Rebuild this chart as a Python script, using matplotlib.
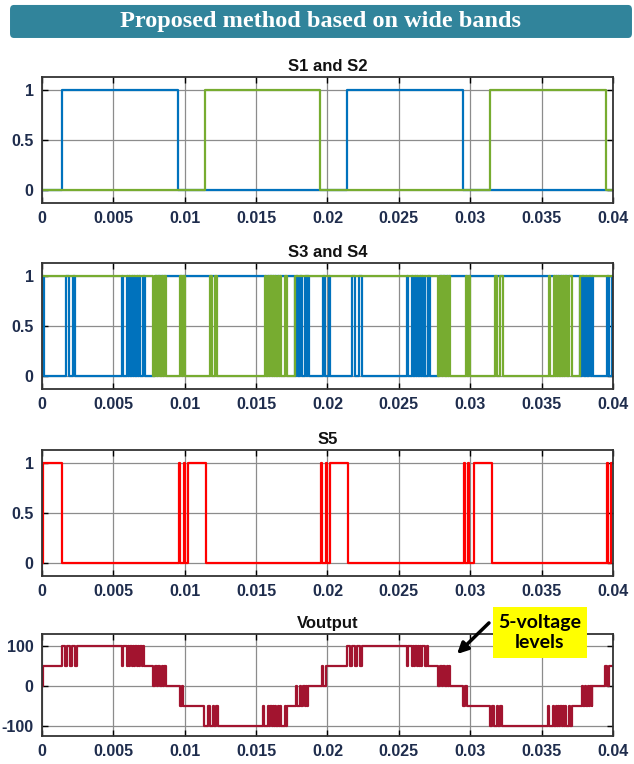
import numpy as np
import matplotlib
matplotlib.use("Agg")
import matplotlib.pyplot as plt
from matplotlib.patches import FancyBboxPatch, Rectangle

# switching instants (seconds)
t_end = 0.04

s1_init = 0
s1_edges = [0.0014, 0.00955, 0.0214, 0.0295]
s2_init = 0
s2_edges = [0.0114, 0.0195, 0.0314, 0.0395]

s3_init = 1
s3_edges = [
    0.00015,
    0.0017, 0.0019, 0.00215, 0.0023,
    0.0056, 0.00567, 0.00595, 0.00602, 0.00612, 0.0062, 0.0063, 0.00637,
    0.00646, 0.00654, 0.00663, 0.0067, 0.0068, 0.00686,
    0.00705, 0.0072,
    0.0079,
    0.0177, 0.0178, 0.01795, 0.0181, 0.01825, 0.0184, 0.01855, 0.0186, 0.0187,
    0.0197, 0.0198, 0.0201, 0.0202,
    0.0217, 0.0219, 0.0222, 0.0224,
    0.0256, 0.02567, 0.02595, 0.02602, 0.02612, 0.0262, 0.0263, 0.02637,
    0.02646, 0.02654, 0.02663, 0.0267, 0.0268, 0.02686,
    0.02705, 0.0272,
    0.0278,
    0.03772, 0.0378, 0.03795, 0.03808, 0.0382, 0.03833, 0.03845, 0.03852, 0.0386,
    0.0396, 0.03972, 0.03992,
]

s4_init = 1
s4_edges = [
    0.0078, 0.00792, 0.00805, 0.00815, 0.00828, 0.0084, 0.0085, 0.00858, 0.00866,
    0.00968, 0.0098, 0.0099, 0.01,
    0.01177, 0.0119, 0.0121, 0.01228,
    0.0156, 0.01567, 0.01585, 0.01592, 0.016, 0.01608, 0.01617, 0.01625,
    0.01634, 0.01642, 0.0165, 0.01658, 0.01667, 0.01675,
    0.01702, 0.01714,
    0.0177,
    0.02776, 0.02788, 0.028, 0.02812, 0.02825, 0.02835, 0.02845, 0.02852, 0.0286,
    0.02968, 0.0298, 0.0299, 0.03,
    0.03175, 0.0319, 0.0321, 0.03228,
    0.03552, 0.0356, 0.03585, 0.03592, 0.036, 0.03608, 0.03617, 0.03625,
    0.03634, 0.03642, 0.0365, 0.03658, 0.03667, 0.03676,
    0.03695, 0.0371,
    0.0377,
]

s5_init = 0
s5_edges = [
    0.00005, 0.0014,
    0.00958, 0.00966, 0.00992, 0.01, 0.0102, 0.0115,
    0.01957, 0.01965, 0.01988, 0.01996, 0.02016, 0.02144,
    0.02955, 0.02963, 0.02985, 0.02993, 0.03025, 0.0315,
    0.03958, 0.03966, 0.03985,
]

vout_t = [
    0, 0.0001, 0.0014, 0.00162, 0.00174, 0.00196, 0.00208, 0.00232, 0.00245,
    0.0056, 0.00567, 0.00595, 0.00602, 0.00612, 0.0062, 0.0063, 0.00637,
    0.00646, 0.00654, 0.00663, 0.0067, 0.0068, 0.00686, 0.00698, 0.00708, 0.00718,
    0.0078, 0.00792, 0.00805, 0.00815, 0.00828, 0.0084, 0.0085, 0.00858, 0.00866,
    0.00967, 0.00978, 0.0099, 0.01135,
    0.01165, 0.01175, 0.01195, 0.01205, 0.01222, 0.01232,
    0.0155, 0.01557, 0.01585, 0.01592, 0.016, 0.01608, 0.01617, 0.01625,
    0.01634, 0.01642, 0.0165, 0.01658, 0.01667, 0.01675, 0.01702, 0.0171, 0.01718,
    0.0178, 0.0179, 0.01805, 0.01815, 0.01828, 0.0184, 0.0185, 0.01858, 0.01866,
    0.01962, 0.01972, 0.0199,
    0.02134, 0.02158, 0.0217, 0.02192, 0.02204, 0.02228, 0.0224,
    0.02555, 0.02562, 0.0259, 0.02597, 0.02607, 0.02615, 0.02625, 0.02632,
    0.02642, 0.0265, 0.02658, 0.02665, 0.02684, 0.02694, 0.02704,
    0.02776, 0.02788, 0.028, 0.02812, 0.02825, 0.02835, 0.02845, 0.02852, 0.0286,
    0.02952, 0.02965, 0.0298, 0.03138,
    0.03155, 0.03165, 0.03185, 0.03195, 0.03212, 0.03222,
    0.03547, 0.03555, 0.03582, 0.0359, 0.03598, 0.03606, 0.03615, 0.03623,
    0.03632, 0.0364, 0.03648, 0.03656, 0.03664, 0.03672, 0.0369, 0.037, 0.0371,
    0.0378, 0.0379, 0.03802, 0.03812, 0.03824, 0.03834, 0.03842, 0.0385, 0.03856,
    0.03944, 0.03955, 0.0397,
]
vout_v = [
    0, 50, 100, 50, 100, 50, 100, 50, 100,
    50, 100, 50, 100, 50, 100, 50, 100,
    50, 100, 50, 100, 50, 100, 50, 100, 50,
    0, 50, 0, 50, 0, 50, 0, 50, 0,
    -50, 0, -50, -100,
    -50, -100, -50, -100, -50, -100,
    -50, -100, -50, -100, -50, -100, -50, -100,
    -50, -100, -50, -100, -50, -100, -50, -100, -50,
    0, -50, 0, -50, 0, -50, 0, -50, 0,
    50, 0, 50,
    100, 50, 100, 50, 100, 50, 100,
    50, 100, 50, 100, 50, 100, 50, 100,
    50, 100, 50, 100, 50, 100, 50,
    0, 50, 0, 50, 0, 50, 0, 50, 0,
    -50, 0, -50, -100,
    -50, -100, -50, -100, -50, -100,
    -50, -100, -50, -100, -50, -100, -50, -100,
    -50, -100, -50, -100, -50, -100, -50, -100, -50,
    0, -50, 0, -50, 0, -50, 0, -50, 0,
    50, 0, 50,
]

x_ticks = [0, 0.005, 0.01, 0.015, 0.02, 0.025, 0.03, 0.035, 0.04]
x_labels = ["0", "0.005", "0.01", "0.015", "0.02", "0.025", "0.03", "0.035", "0.04"]

blue = "#0072BD"
green = "#77AC30"
red = "#FF0000"
wine = "#A2142F"
tick_color = "#1F2D4D"


def toggles(init, edges):
    t = [0] + list(edges) + [t_end]
    v = [init]
    for _ in edges:
        v.append(1 - v[-1])
    v.append(v[-1])
    return t, v


def style(ax, title, yticks, ylabels, ylim):
    ax.set_xlim(0, t_end)
    ax.set_ylim(*ylim)
    ax.set_xticks(x_ticks)
    ax.set_xticklabels(x_labels)
    ax.set_yticks(yticks)
    ax.set_yticklabels(ylabels)
    ax.grid(True, color="#8c8c8c", lw=0.9)
    ax.set_axisbelow(True)
    ax.tick_params(direction="in", top=True, right=True, length=4, width=1,
                   labelsize=11.5, labelcolor=tick_color, pad=6)
    for lbl in ax.get_xticklabels() + ax.get_yticklabels():
        lbl.set_fontweight("bold")
    for sp in ax.spines.values():
        sp.set_color("#333333")
        sp.set_linewidth(1.3)
    ax.set_title(title, fontsize=12, fontweight="bold", color="#111111", pad=4)


plt.rcParams["font.family"] = ["Liberation Sans", "DejaVu Sans"]

fig = plt.figure(figsize=(6.34, 7.64), dpi=100)
L, W = 0.0662, 0.9006
ax1 = fig.add_axes([L, 0.7343, W, 0.1649])
ax2 = fig.add_axes([L, 0.4908, W, 0.1649])
ax3 = fig.add_axes([L, 0.2461, W, 0.1649])
ax4 = fig.add_axes([L, 0.0366, W, 0.1335])

lw = 1.6
sw_ylim = (-0.13, 1.13)

t, v = toggles(s1_init, s1_edges)
ax1.plot(t, v, drawstyle="steps-post", color=blue, lw=lw)
t, v = toggles(s2_init, s2_edges)
ax1.plot(t, v, drawstyle="steps-post", color=green, lw=lw)
style(ax1, "S1 and S2", [0, 0.5, 1], ["0", "0.5", "1"], sw_ylim)

t, v = toggles(s3_init, s3_edges)
ax2.plot(t, v, drawstyle="steps-post", color=blue, lw=lw)
t, v = toggles(s4_init, s4_edges)
ax2.plot(t, v, drawstyle="steps-post", color=green, lw=lw)
style(ax2, "S3 and S4", [0, 0.5, 1], ["0", "0.5", "1"], sw_ylim)

t, v = toggles(s5_init, s5_edges)
ax3.plot(t, v, drawstyle="steps-post", color=red, lw=lw)
style(ax3, "S5", [0, 0.5, 1], ["0", "0.5", "1"], sw_ylim)

ax4.plot(vout_t + [t_end], vout_v + [vout_v[-1]], drawstyle="steps-post", color=wine, lw=lw)
style(ax4, "Voutput", [-100, 0, 100], ["-100", "0", "100"], (-125, 130))

# banner
fig.patches.append(FancyBboxPatch((0.0158, 0.9503), 0.981, 0.0432,
                                  boxstyle="round,pad=0,rounding_size=0.006",
                                  transform=fig.transFigure, facecolor="#31849B",
                                  edgecolor="none"))
fig.text(0.506, 0.9719, "Proposed method based on wide bands", ha="center", va="center",
         color="white", fontsize=17.5, fontweight="bold", family="Liberation Serif")

# annotation
fig.patches.append(Rectangle((0.7776, 0.1387), 0.1483, 0.0668, transform=fig.transFigure,
                             facecolor="#FFFF00", edgecolor="none"))
fig.text(0.8517, 0.1721, "5-voltage\nlevels", ha="center", va="center", fontsize=14,
         fontweight="bold", color="black", family=["Lato", "DejaVu Sans"], linespacing=1.15)
ax4.annotate("", xy=(0.7177, 0.1414), xycoords="figure fraction",
             xytext=(0.7744, 0.1872), textcoords="figure fraction",
             arrowprops=dict(arrowstyle="-|>", lw=2.5, color="black", mutation_scale=16),
             annotation_clip=False)

fig.savefig("out.png", dpi=100)
